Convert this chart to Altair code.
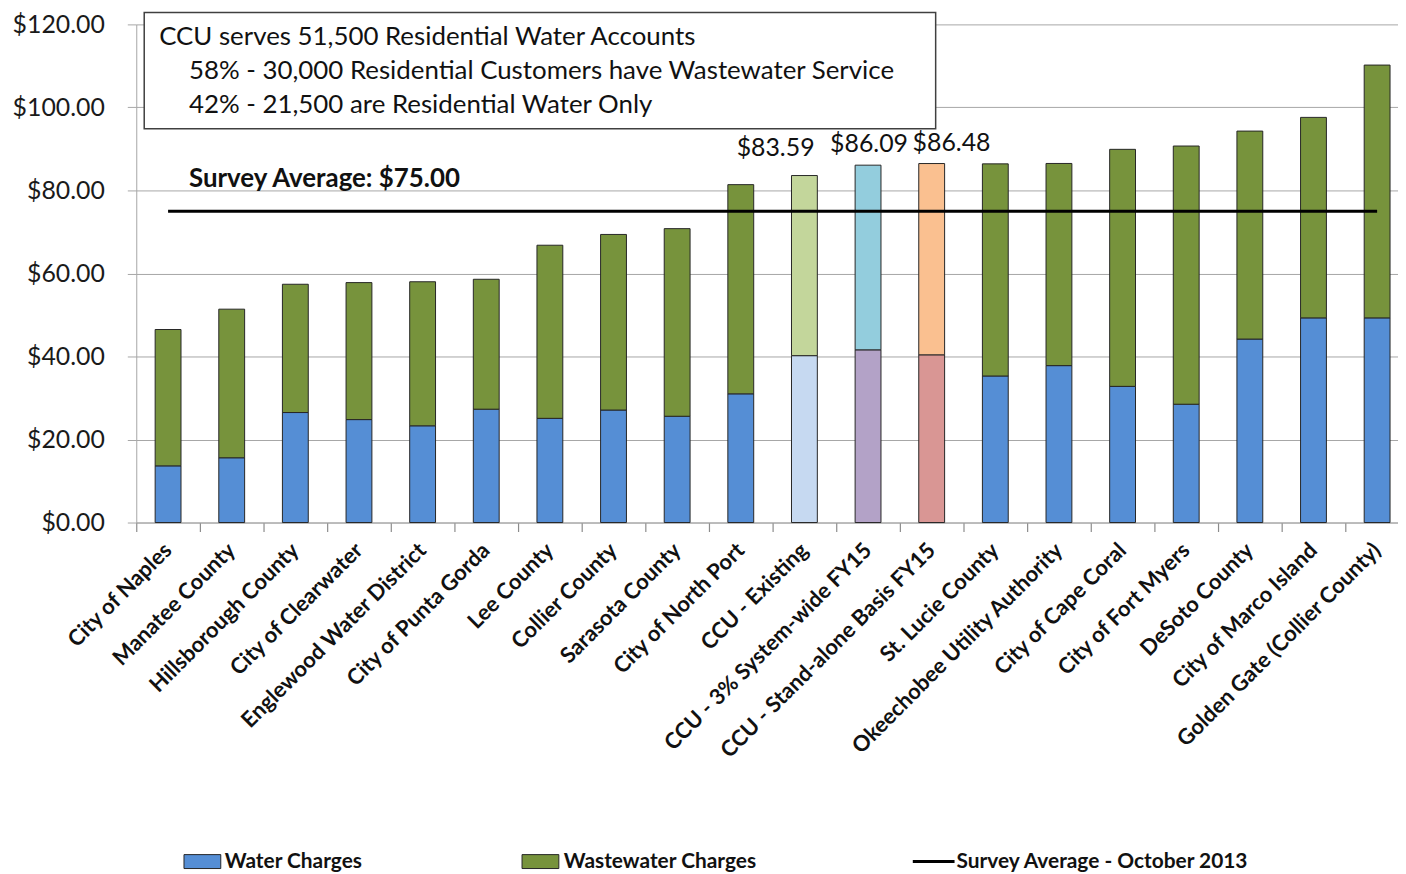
import altair as alt
import pandas as pd

categories = [
    "City of Naples", "Manatee County", "Hillsborough County", "City of Clearwater",
    "Englewood Water District", "City of Punta Gorda", "Lee County", "Collier County",
    "Sarasota County", "City of North Port", "CCU - Existing", "CCU - 3% System-wide FY15",
    "CCU - Stand-alone Basis FY15", "St. Lucie County", "Okeechobee Utility Authority",
    "City of Cape Coral", "City of Fort Myers", "DeSoto County", "City of Marco Island",
    "Golden Gate (Collier County)",
]
water = [13.65, 15.6, 26.5, 24.8, 23.3, 27.3, 25.1, 27.1, 25.6, 31.0,
         40.2, 41.6, 40.4, 35.3, 37.8, 32.8, 28.5, 44.2, 49.3, 49.3]
wastewater = [32.85, 35.8, 30.9, 33.0, 34.7, 31.3, 41.7, 42.3, 45.2, 50.4,
              43.39, 44.49, 46.08, 51.1, 48.7, 57.1, 62.2, 50.1, 48.3, 60.9]
water_colors = ["#558ED5"] * 10 + ["#C6D9F1", "#B3A2C7", "#D99694"] + ["#558ED5"] * 7
ww_colors = ["#77933C"] * 10 + ["#C3D69B", "#93CDDD", "#FAC090"] + ["#77933C"] * 7
survey_average = 75.0
ccu_cats = ["CCU - Existing", "CCU - 3% System-wide FY15", "CCU - Stand-alone Basis FY15"]
ccu_totals = [83.59, 86.09, 86.48]
ccu_labels = ["$83.59", "$86.09", "$86.48"]
box_lines = [
    "CCU serves 51,500 Residential Water Accounts",
    "58% - 30,000 Residential Customers have Wastewater Service",
    "42% - 21,500 are Residential Water Only",
]
survey_text = "Survey Average: $75.00"
legend_labels = ["Water Charges", "Wastewater Charges", "Survey Average - October 2013"]

rows = []
for i, c in enumerate(categories):
    rows.append(dict(cat=c, part="Water", ord=0, value=water[i], color=water_colors[i]))
    rows.append(dict(cat=c, part="Wastewater", ord=1, value=wastewater[i], color=ww_colors[i]))
df = pd.DataFrame(rows)

W, H = 1269, 501
FONT = "Lato"
GRID = "#A6A6A6"

xscale = alt.Scale(domain=categories, range=[0, 1280], paddingInner=0, paddingOuter=0)
yscale = alt.Scale(domain=[0, 120])

xaxis = alt.Axis(title=None, labelAngle=-45, labelAlign="right", labelBaseline="middle",
                 labelFont=FONT, labelFontWeight="bold", labelFontSize=22, labelColor="#111111",
                 ticks=True, tickSize=9, tickColor="#8C8C8C", tickWidth=1.2, bandPosition=0,
                 domainColor=GRID, domainWidth=1, labelPadding=15,
                 labelLimit=0, grid=False)
yaxis = alt.Axis(title=None, values=[0, 20, 40, 60, 80, 100, 120], format="$,.2f",
                 labelFont=FONT, labelFontSize=25, labelColor="#1a1a1a", tickSize=9,
                 tickColor=GRID, domainColor=GRID, gridColor=GRID, gridWidth=1,
                 labelPadding=23)

X = lambda f, **kw: alt.X(f, scale=xscale, sort=categories, axis=xaxis, **kw)
Y = lambda f, **kw: alt.Y(f, scale=yscale, axis=yaxis, **kw)

bars = alt.Chart(df).mark_bar(width=26, stroke="#262626", strokeWidth=1).encode(
    x=X("cat:N"),
    y=Y("value:Q", stack="zero"),
    color=alt.Color("color:N", scale=None),
    order=alt.Order("ord:Q"),
)

avg_df = pd.DataFrame({"a": [categories[0]], "b": [categories[-1]], "v": [survey_average]})
avg_rule = alt.Chart(avg_df).mark_rule(color="black", strokeWidth=3).encode(
    x=X("a:N"), x2="b:N", y=Y("v:Q"),
)

label_layers = []
for cat, tot, lab, dx, dy in zip(ccu_cats, ccu_totals, ccu_labels, [-29, 1, 20], [-20, -13, -13]):
    d = pd.DataFrame({"cat": [cat], "v": [tot], "t": [lab]})
    label_layers.append(
        alt.Chart(d).mark_text(font=FONT, fontSize=25, color="#111111", align="center",
                               baseline="alphabetic", dx=dx, dy=dy).encode(
            x=X("cat:N"), y=Y("v:Q"), text="t:N")
    )

one = pd.DataFrame({"k": [0]})
box = alt.Chart(one).mark_rect(fill="white", stroke="#404040", strokeWidth=1.5).encode(
    x=alt.value(8), x2=alt.value(804), y=alt.value(-12), y2=alt.value(105))

box_text = []
for txt, xx, yy in zip(box_lines, [23, 53, 53], [21, 55, 89]):
    box_text.append(alt.Chart(pd.DataFrame({"t": [txt]})).mark_text(
        font=FONT, fontSize=26, color="#111111", align="left", baseline="alphabetic").encode(
        x=alt.value(xx), y=alt.value(yy), text="t:N"))

survey_lbl = alt.Chart(pd.DataFrame({"t": [survey_text]})).mark_text(
    font=FONT, fontSize=26, fontWeight="bold", color="#111111", align="left",
    baseline="alphabetic").encode(x=alt.value(53), y=alt.value(164), text="t:N")

# legend
LY = 842
leg = []
for x0, col in zip([48, 388], [water_colors[0], ww_colors[0]]):
    leg.append(alt.Chart(one).mark_rect(fill=col, stroke="#262626", strokeWidth=1).encode(
        x=alt.value(x0), x2=alt.value(x0 + 37), y=alt.value(LY - 7), y2=alt.value(LY + 7)))
leg.append(alt.Chart(one).mark_rule(color="black", strokeWidth=3).encode(
    x=alt.value(781), x2=alt.value(823), y=alt.value(LY)))
for txt, x0 in zip(legend_labels, [89, 430, 825]):
    leg.append(alt.Chart(pd.DataFrame({"t": [txt]})).mark_text(
        font=FONT, fontSize=21, fontWeight="bold", color="#111111", align="left",
        baseline="middle").encode(x=alt.value(x0), y=alt.value(LY), text="t:N"))

chart = alt.layer(bars, avg_rule, *label_layers, box, *box_text, survey_lbl, *leg).properties(
    width=W, height=H,
    padding={"left": 129, "top": 14, "right": 0, "bottom": 350},
    autosize=alt.AutoSizeParams(type="none"),
    background="white",
).configure_view(stroke=None)

chart.save("out.html", embed_options={"renderer": "svg", "actions": False})
